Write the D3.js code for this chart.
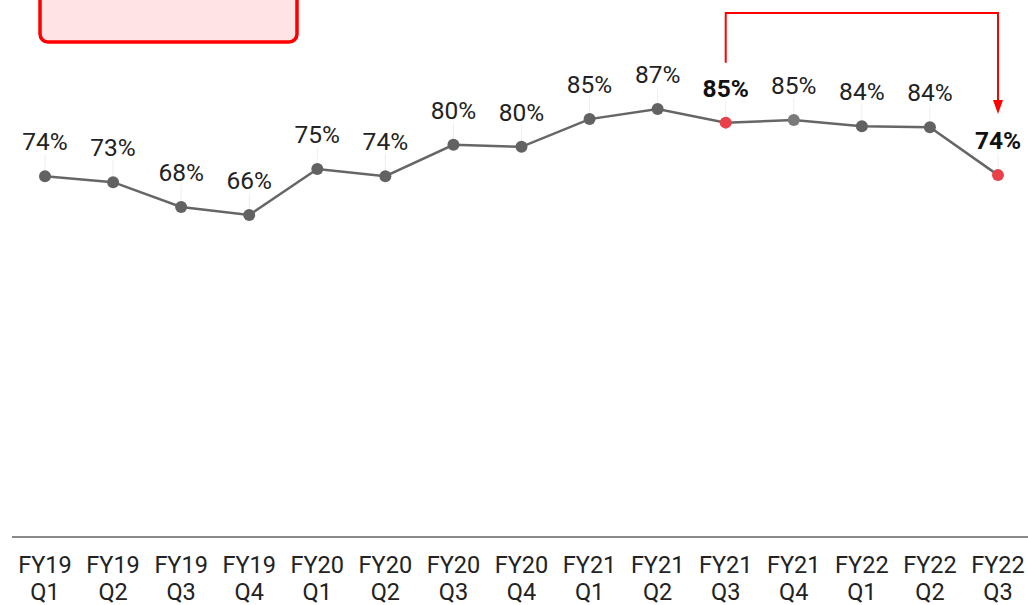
<!DOCTYPE html>
<html>
<head>
  <meta charset="utf-8">
  <title>Quarterly share</title>
  <style>
    body { margin: 0; background: #fff; font-family: Roboto, sans-serif; }
    svg { display: block; }
    .val { font-size: 24.5px; fill: #222; text-anchor: middle; }
    .val.hl { font-weight: bold; fill: #111; }
    .tick { font-size: 23.5px; fill: #222; text-anchor: middle; }
  </style>
</head>
<body>
  <svg width="1028" height="605"></svg>
  <script src="https://d3js.org/d3.v7.min.js"></script>
  <script>
    var years = ['FY19', 'FY19', 'FY19', 'FY19', 'FY20', 'FY20', 'FY20', 'FY20', 'FY21', 'FY21', 'FY21', 'FY21', 'FY22', 'FY22', 'FY22'];
    var quarters = ['Q1', 'Q2', 'Q3', 'Q4', 'Q1', 'Q2', 'Q3', 'Q4', 'Q1', 'Q2', 'Q3', 'Q4', 'Q1', 'Q2', 'Q3'];
    var values = [73.7, 72.5, 67.6, 66.0, 75.1, 73.7, 79.9, 79.5, 85.0, 87.0, 84.3, 84.8, 83.6, 83.4, 73.9];
    var labels = ['74%', '73%', '68%', '66%', '75%', '74%', '80%', '80%', '85%', '87%', '85%', '85%', '84%', '84%', '74%'];
    var highlight = [10, 14];

    var svg = d3.select('svg');
    var idx = d3.range(values.length);

    var x = d3.scalePoint()
      .domain(idx)
      .range([45, 998]);

    var y = d3.scaleLinear()
      .domain([66, 87])
      .range([215, 109]);

    // pink callout box, cut by the top edge
    svg.append('rect')
      .attr('x', 40).attr('y', -20)
      .attr('width', 257).attr('height', 62)
      .attr('rx', 8)
      .attr('fill', '#ffe3e5')
      .attr('stroke', '#ff0000')
      .attr('stroke-width', 3.5);

    // baseline
    svg.append('line')
      .attr('x1', 12).attr('x2', 1028)
      .attr('y1', 537).attr('y2', 537)
      .attr('stroke', '#8a8a8a')
      .attr('stroke-width', 2);

    // faint guides between label and point
    svg.selectAll('line.guide')
      .data(idx)
      .enter().append('line')
      .attr('class', 'guide')
      .attr('x1', function(i) { return x(i); })
      .attr('x2', function(i) { return x(i); })
      .attr('y1', function(i) { return y(values[i]) - 22; })
      .attr('y2', function(i) { return y(values[i]); })
      .attr('stroke', '#eeeeee')
      .attr('stroke-width', 1);

    var line = d3.line()
      .x(function(i) { return x(i); })
      .y(function(i) { return y(values[i]); });

    svg.append('path')
      .datum(idx)
      .attr('d', line)
      .attr('fill', 'none')
      .attr('stroke', '#666')
      .attr('stroke-width', 2.5);

    svg.selectAll('circle.pt')
      .data(idx)
      .enter().append('circle')
      .attr('class', 'pt')
      .attr('cx', function(i) { return x(i); })
      .attr('cy', function(i) { return y(values[i]); })
      .attr('r', 6)
      .attr('fill', function(i) {
        if (highlight.indexOf(i) >= 0) return '#e8414b';
        return i === 11 ? '#7a7a7a' : '#626262';
      });

    svg.selectAll('text.val')
      .data(idx)
      .enter().append('text')
      .attr('class', function(i) { return highlight.indexOf(i) >= 0 ? 'val hl' : 'val'; })
      .attr('x', function(i) { return x(i); })
      .attr('y', function(i) { return y(values[i]) - 26; })
      .text(function(i) { return labels[i]; });

    // category labels
    var ticks = svg.selectAll('g.tick')
      .data(idx)
      .enter().append('g')
      .attr('transform', function(i) { return 'translate(' + x(i) + ',0)'; });

    ticks.append('text')
      .attr('class', 'tick')
      .attr('y', 573)
      .text(function(i) { return years[i]; });

    ticks.append('text')
      .attr('class', 'tick')
      .attr('y', 600)
      .text(function(i) { return quarters[i]; });

    // red connector arrow between the two highlighted quarters
    var a = highlight[0], b = highlight[1];
    svg.append('path')
      .attr('d', 'M' + x(a) + ',' + (y(values[a]) - 60) + 'V13H' + x(b) + 'V108')
      .attr('fill', 'none')
      .attr('stroke', '#ff0000')
      .attr('stroke-width', 2);

    svg.append('path')
      .attr('d', 'M' + (x(b) - 5) + ',100L' + x(b) + ',114L' + (x(b) + 5) + ',100Z')
      .attr('fill', '#ff0000');
  </script>
</body>
</html>
